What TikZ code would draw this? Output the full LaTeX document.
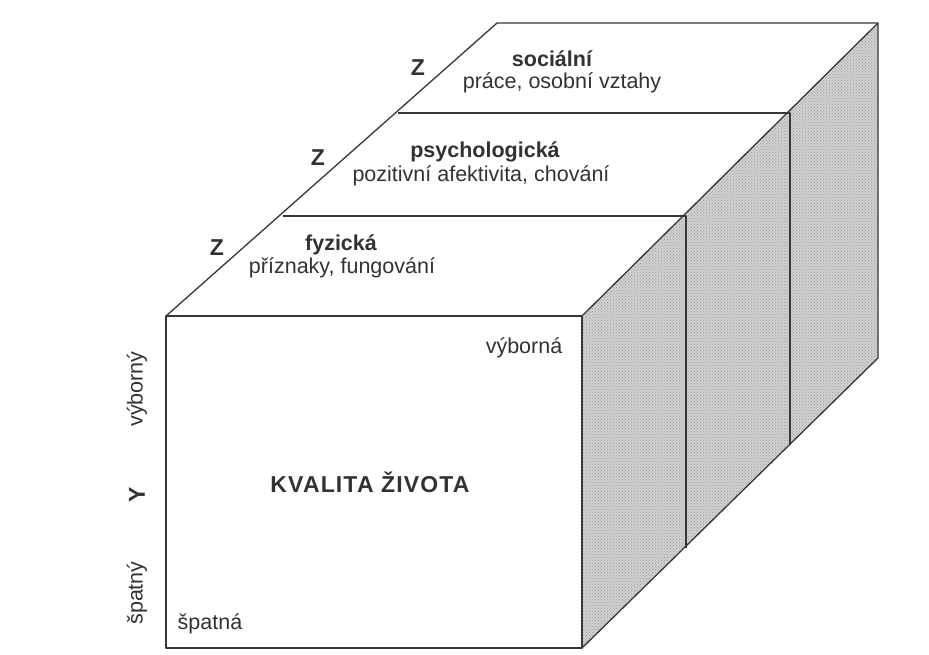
\documentclass[tikz,border=0pt]{standalone}
\usepackage{fontspec}
\setmainfont{Liberation Sans}
\usetikzlibrary{patterns}
\definecolor{ink}{RGB}{50,50,50}
\definecolor{edge}{RGB}{55,55,55}
\definecolor{sidegray}{RGB}{208,208,208}

\begin{document}
\begin{tikzpicture}[x=1pt, y=-1pt, line join=round,
  every node/.style={text=ink, inner sep=0pt},
  lbl/.style={font=\fontsize{21.5}{24}\selectfont},
  head/.style={font=\fontsize{21.5}{24}\selectfont\bfseries},
  axis/.style={font=\fontsize{23}{26}\selectfont\bfseries},
  wall/.style={draw=edge, line width=1.3pt}]
  \useasboundingbox (0,0) rectangle (929,655);
  % corners of the box, front face first
  \coordinate (fTL) at (166,316);
  \coordinate (fTR) at (582,316);
  \coordinate (fBR) at (582,648);
  \coordinate (bTL) at (497,23);
  \coordinate (bTR) at (878,23);
  \coordinate (bBR) at (878,358);
  % where the three layers meet, on top and on the side
  \coordinate (aL) at (283,216); \coordinate (aR) at (686,216); \coordinate (aB) at (686,548);
  \coordinate (cL) at (398,113); \coordinate (cR) at (790,113); \coordinate (cB) at (790,445);

  % shaded side wall
  \fill[sidegray] (fTR) -- (bTR) -- (bBR) -- (fBR) -- cycle;
  \fill[pattern=crosshatch dots, pattern color=black!38] (fTR) -- (bTR) -- (bBR) -- (fBR) -- cycle;

  % outline and layer walls
  \draw[wall] (fTL) rectangle (fBR);
  \draw[wall] (fTL) -- (bTL) -- (bTR) -- (bBR) -- (fBR);
  \draw[wall] (fTR) -- (bTR);
  \draw[wall] (aL) -- (aR) -- (aB);
  \draw[wall] (cL) -- (cR) -- (cB);

  % layer labels on the top face
  \node[head] (fyz)    at (341,245) {fyzická};
  \node[lbl]  (fyzTxt) at (342,268) {příznaky, fungování};
  \node[head] (psy)    at (485,152) {psychologická};
  \node[lbl]  (psyTxt) at (481,176) {pozitivní afektivita, chování};
  \node[head] (soc)    at (552,59)  {sociální};
  \node[lbl]  (socTxt) at (562,83)  {práce, osobní vztahy};
  \foreach \pos/\nm in {(217,248)/zA, (318,158)/zB, (418,68)/zC}
    \node[axis] (\nm) at \pos {Z};

  % front face
  \node[font=\fontsize{23}{26}\selectfont\bfseries\addfontfeatures{LetterSpace=5}] (title) at (370,482) {KVALITA ŽIVOTA};
  \node[lbl] (hi) at (524,348) {výborná};
  \node[lbl] (lo) at (210,624) {špatná};

  % vertical axis, read bottom to top
  \node[lbl, rotate=90]  (yHi) at (137,389) {výborný};
  \node[axis, rotate=90] (yAx) at (137,495) {Y};
  \node[lbl, rotate=90]  (yLo) at (137,593) {špatný};
\end{tikzpicture}
\end{document}
